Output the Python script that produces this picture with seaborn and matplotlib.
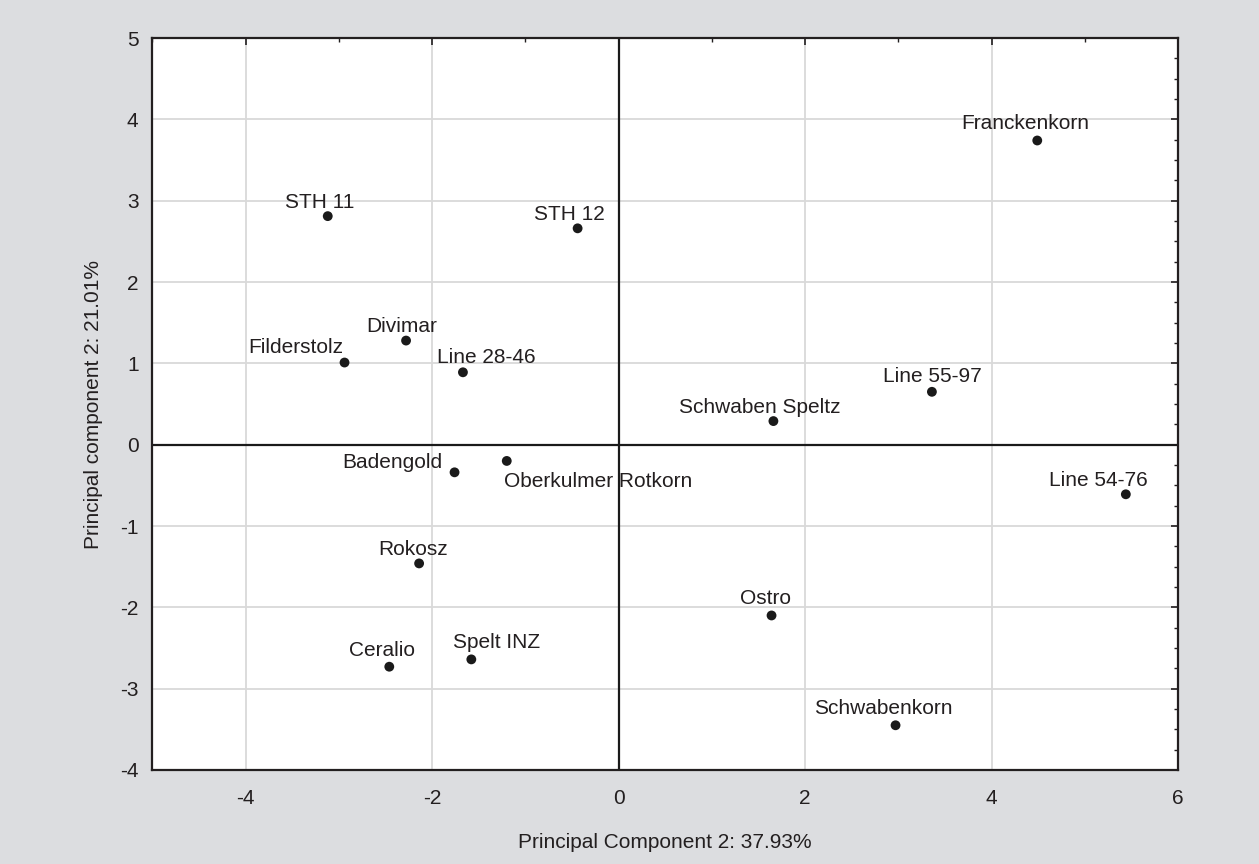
import numpy as np
import pandas as pd
import matplotlib
matplotlib.use('Agg')
import matplotlib.pyplot as plt
from matplotlib.ticker import MultipleLocator
import seaborn as sns

# ── data: PCA scores ─────────────────────────────────────────────────────────
cultivars = ['Franckenkorn', 'STH 11', 'STH 12', 'Divimar', 'Filderstolz',
             'Line 28-46', 'Schwaben Speltz', 'Line 55-97', 'Badengold',
             'Oberkulmer Rotkorn', 'Line 54-76', 'Rokosz', 'Ostro',
             'Ceralio', 'Spelt INZ', 'Schwabenkorn']
pc1 = [4.49, -3.12, -0.44, -2.28, -2.94, -1.67, 1.66, 3.36, -1.76,
       -1.20, 5.44, -2.14, 1.64, -2.46, -1.58, 2.97]
pc2 = [3.74, 2.81, 2.66, 1.28, 1.01, 0.89, 0.29, 0.65, -0.34,
       -0.20, -0.61, -1.46, -2.10, -2.73, -2.64, -3.45]

# label offsets in points (dx, dy) relative to each marker
label_offsets = {
    'Franckenkorn': (-9, 12), 'STH 11': (-6, 10), 'STH 12': (-6, 10),
    'Divimar': (-3, 10), 'Filderstolz': (-35, 11), 'Line 28-46': (17, 11),
    'Schwaben Speltz': (-10, 10), 'Line 55-97': (0, 11), 'Badengold': (-45, 7),
    'Oberkulmer Rotkorn': (66, -15), 'Line 54-76': (-20, 10), 'Rokosz': (-4, 10),
    'Ostro': (-4, 12), 'Ceralio': (-5, 12), 'Spelt INZ': (18, 12),
    'Schwabenkorn': (-9, 12),
}

df = pd.DataFrame({'cultivar': cultivars, 'pc1': pc1, 'pc2': pc2})

sns.set_style('white')
plt.rcParams['font.family'] = ['Liberation Sans Narrow', 'Liberation Sans', 'DejaVu Sans']
plt.rcParams['axes.unicode_minus'] = False

bg = '#dcdde0'
ink = '#231f20'
fig = plt.figure(figsize=(12.59, 8.64), dpi=100, facecolor=bg)
ax = fig.add_axes([0.1211, 0.1088, 0.8146, 0.8472])

# grid and zero reference lines
ax.set_axisbelow(True)
ax.grid(True, which='major', color='#d9d9d9', linewidth=1.3)
ax.axhline(0, color='#1a1a1a', linewidth=1.6, zorder=1)
ax.axvline(0, color='#1a1a1a', linewidth=1.6, zorder=1)

sns.scatterplot(data=df, x='pc1', y='pc2', ax=ax, color='#1a1a1a', s=50,
                edgecolor='none', zorder=3)

for name, x, y in zip(cultivars, pc1, pc2):
    dx, dy = label_offsets[name]
    ax.annotate(name, (x, y), xytext=(dx, dy), textcoords='offset points',
                ha='center', va='center', fontsize=15, color=ink)

ax.set_xlim(-5, 6)
ax.set_ylim(-4, 5)
ax.xaxis.set_major_locator(MultipleLocator(2))
ax.xaxis.set_minor_locator(MultipleLocator(1))
ax.yaxis.set_major_locator(MultipleLocator(1))
ax.yaxis.set_minor_locator(MultipleLocator(0.25))
ax.tick_params(which='both', direction='in', top=True, right=True,
               colors=ink, labelsize=15)
ax.tick_params(which='major', length=5, width=1.2)
ax.tick_params(which='minor', length=3, width=1)
ax.tick_params(axis='x', which='major', pad=14)
ax.tick_params(axis='y', which='major', pad=10)

for sp in ax.spines.values():
    sp.set_color(ink)
    sp.set_linewidth(1.6)

ax.set_xlabel('Principal Component 2: 37.93%', fontsize=15, color=ink, labelpad=18)
ax.set_ylabel('Principal component 2: 21.01%', fontsize=15, color=ink, labelpad=12)

fig.savefig('out.png', dpi=100, facecolor=bg)
